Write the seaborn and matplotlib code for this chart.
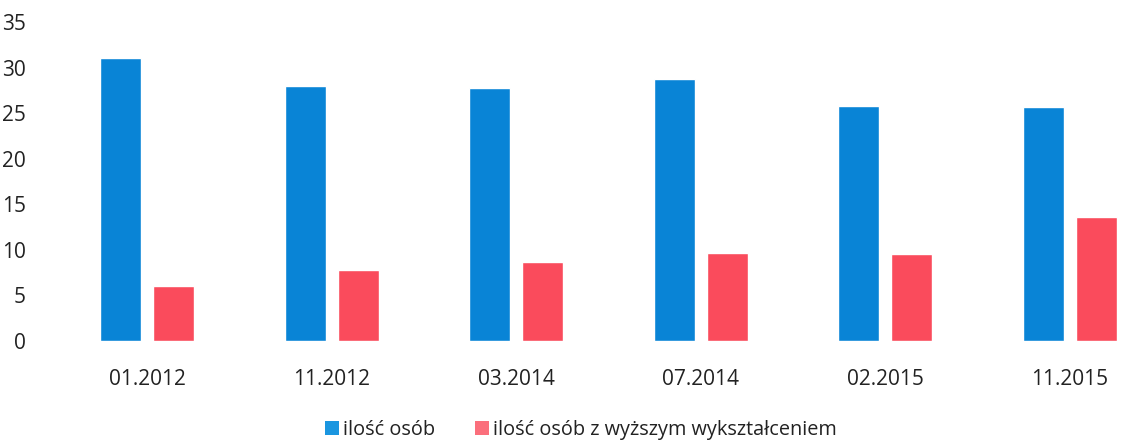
import matplotlib
matplotlib.use("Agg")
import matplotlib.pyplot as plt
import seaborn as sns
import pandas as pd
from matplotlib.patches import Patch

categories = ["01.2012", "11.2012", "03.2014", "07.2014", "02.2015", "11.2015"]
series_names = ["ilość osób", "ilość osób z wyższym wykształceniem"]
values_all = [31.0, 28.0, 27.8, 28.7, 25.8, 25.7]
values_higher = [6.0, 7.8, 8.7, 9.7, 9.6, 13.6]
colors = ["#0984D6", "#FA4B5C"]
legend_colors = ["#1a96e0", "#fb6f7c"]

df = pd.DataFrame({
    "okres": categories * 2,
    "seria": [series_names[0]] * len(categories) + [series_names[1]] * len(categories),
    "wartosc": values_all + values_higher,
})

sns.set_theme(style="white")
plt.rcParams["font.family"] = ["Open Sans", "DejaVu Sans"]

fig = plt.figure(figsize=(11.3, 4.41), dpi=100)
ax = fig.add_axes([55 / 1130, 100 / 441, 1 - 55 / 1130, (341 - 22) / 441])

sns.barplot(data=df, x="okres", y="wartosc", hue="seria", order=categories,
            hue_order=series_names, palette=colors, width=0.574, gap=0.226,
            saturation=1, ax=ax, legend=False)

ax.set_ylim(0, 35)
ax.set_xlim(-0.5, 5.5 - 32 / 184.6)
ax.set_yticks(range(0, 36, 5))
ax.set_xlabel("")
ax.set_ylabel("")
for s in ax.spines.values():
    s.set_visible(False)
ax.tick_params(axis="y", length=0, pad=21, labelsize=15, labelcolor="#222222")
ax.tick_params(axis="x", length=0, pad=20, labelsize=15, labelcolor="#222222")

handles = [Patch(facecolor=c, edgecolor="none") for c in legend_colors]
fig.legend(handles, series_names, loc="center", bbox_to_anchor=(581 / 1130, 1 - 430 / 441),
           ncol=2, frameon=False, fontsize=14.3, handlelength=0.72, handleheight=0.72,
           handletextpad=0.2, columnspacing=2.0, labelcolor="#222222")

fig.savefig("out.png", dpi=100)
